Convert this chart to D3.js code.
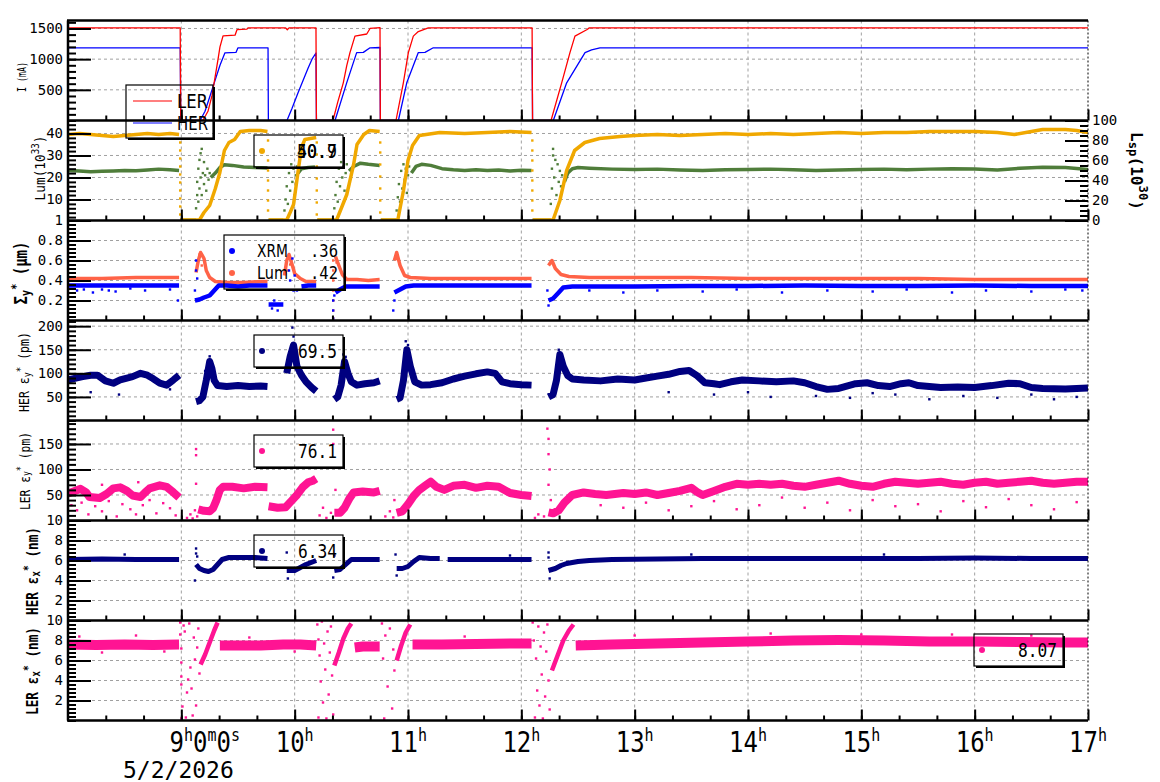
<!DOCTYPE html>
<html lang="en">
<head>
<meta charset="UTF-8">
<title>Beam monitor</title>
<script src="https://d3js.org/d3.v7.min.js"></script>
<style>
  body { margin: 0; background: #fff; }
  svg { display: block; font-family: "DejaVu Sans Mono", monospace; }
</style>
</head>
<body>
<svg id="chart" width="1160" height="782"></svg>
<script>
// ---- data (time in hours, value) ; null = gap ----
const lerCurrent = [[8.0,1510],[8.99,1510],[8.995,0],[9.19,0],[9.235,150],[9.27,400],[9.297,700],[9.324,1000],[9.341,1200],[9.368,1380],[9.474,1390],[9.491,1480],[9.579,1490],[9.588,1510],[9.92,1510],[9.935,1480],[9.95,1510],[10.188,1510],[10.192,0],[10.338,0],[10.38,300],[10.429,614],[10.46,900],[10.488,1107],[10.532,1375],[10.636,1410],[10.665,1500],[10.753,1515],[10.756,0],[10.894,0],[10.959,614],[11.003,1107],[11.047,1375],[11.091,1450],[11.179,1510],[12.095,1510],[12.099,0],[12.262,0],[12.356,614],[12.429,1107],[12.473,1375],[12.577,1480],[12.6,1510],[17.0,1510]];
const herCurrent = [[8.0,1185],[8.99,1185],[8.995,0],[9.165,0],[9.209,150],[9.253,400],[9.297,650],[9.341,900],[9.385,1103],[9.482,1110],[9.5,1185],[9.765,1185],[9.768,0],[9.932,0],[9.977,200],[10.029,450],[10.074,650],[10.118,850],[10.153,1000],[10.188,1100],[10.192,0],[10.356,0],[10.459,614],[10.547,1107],[10.606,1110],[10.665,1185],[10.753,1190],[10.756,0],[10.915,0],[10.989,614],[11.091,1107],[11.15,1110],[11.223,1185],[12.095,1185],[12.099,0],[12.282,0],[12.4,614],[12.562,1107],[12.62,1150],[12.694,1185],[17.0,1185]];

const lumData = [[8.0,23.2],[8.1,22.9],[8.2,22.6],[8.3,22.8],[8.4,23.0],[8.5,23.2],[8.6,23.1],[8.7,23.4],[8.8,23.8],[8.9,23.5],[8.98,23.2],[8.985,null],[8.99,0.6],[9.13,0.6],[9.135,null],[9.26,20],[9.3,22],[9.34,24.5],[9.38,25.8],[9.45,25.5],[9.55,24.8],[9.65,24.5],[9.76,24.3],[9.762,null],[9.77,0.6],[9.9,0.6],[9.905,null],[10.03,22],[10.06,24],[10.12,24.5],[10.18,24.8],[10.185,null],[10.2,0.6],[10.34,0.6],[10.345,null],[10.48,23],[10.52,25],[10.58,26.5],[10.65,26],[10.75,25.5],[10.752,null],[10.76,0.6],[10.9,0.6],[10.905,null],[11.03,22],[11.07,25],[11.12,26],[11.2,25.5],[11.3,24],[11.4,23.5],[11.5,23.2],[11.6,23.5],[11.7,23.2],[11.8,23.4],[11.9,23],[12.0,23.3],[12.09,23.2],[12.095,null],[12.1,0.6],[12.26,0.6],[12.265,null],[12.38,18],[12.41,22],[12.45,24],[12.5,24.5],[12.6,24.2],[12.8,23.8],[13.0,23.6],[13.2,23.8],[13.4,23.4],[13.6,23.2],[13.8,23.5],[14.0,23.6],[14.2,23.8],[14.4,23.5],[14.6,23.2],[14.8,23.4],[15.0,23.6],[15.2,23.8],[15.4,23.5],[15.6,23.8],[15.8,24],[16.0,23.9],[16.2,23.4],[16.4,24.2],[16.6,24.6],[16.8,24.5],[17.0,23.6]];
const lumDots = [[9.13,6],[9.14,12],[9.14,18],[9.15,9],[9.15,24],[9.16,15],[9.16,28],[9.17,20],[9.17,31],[9.18,12],[9.18,33],[9.19,22],[9.2,17],[9.2,27],[9.21,21],[9.22,14],[9.23,24],[9.24,19],[9.25,22],[9.91,5],[9.92,10],[9.93,16],[9.94,8],[9.95,22],[9.96,14],[9.97,26],[9.98,18],[9.99,24],[10.0,12],[10.01,21],[10.02,25],[10.35,6],[10.36,12],[10.37,18],[10.38,9],[10.39,24],[10.4,16],[10.41,27],[10.42,20],[10.43,25],[10.44,14],[10.45,22],[10.46,26],[10.9,5],[10.91,11],[10.92,17],[10.93,9],[10.94,23],[10.95,15],[10.96,26],[10.97,19],[10.98,24],[10.99,13],[11.0,21],[11.01,25],[12.26,8],[12.27,15],[12.27,24],[12.28,30],[12.28,33],[12.29,20],[12.3,28],[12.31,12],[12.32,26],[12.33,18],[12.34,23],[12.35,16],[12.36,21]];
const lspData = [[8.0,86],[8.1,87],[8.2,86],[8.3,85],[8.4,84],[8.5,85],[8.6,86],[8.7,87],[8.8,86],[8.9,87],[8.98,86],[8.985,null],[8.99,0.5],[9.16,0.5],[9.2,8],[9.25,15],[9.3,32],[9.34,48],[9.38,70],[9.42,78],[9.47,81],[9.52,89],[9.6,90],[9.7,90],[9.76,89],[9.762,null],[9.77,0.5],[9.93,0.5],[9.96,8],[9.99,16],[10.03,49],[10.06,73],[10.09,81],[10.19,83],[10.192,null],[10.2,0.5],[10.37,0.5],[10.46,26],[10.52,56],[10.55,76],[10.61,86],[10.66,90],[10.75,89],[10.752,null],[10.76,0.5],[10.91,0.5],[10.96,30],[11.0,60],[11.04,75],[11.1,85],[11.28,88],[11.5,87],[11.7,88],[11.9,89],[12.09,88],[12.095,null],[12.1,0.5],[12.28,0.5],[12.34,20],[12.4,50],[12.47,70],[12.56,78],[12.69,82],[12.87,84],[13.0,85],[13.2,86],[13.4,85],[13.6,86],[13.8,87],[14.0,86],[14.2,87],[14.4,86],[14.6,87],[14.8,88],[15.0,87],[15.2,88],[15.4,88],[15.6,89],[15.8,89],[16.0,89],[16.2,88],[16.35,86],[16.5,89],[16.6,91],[16.8,91],[16.9,90],[17.0,88]];
const lspDrops = [[8.99,78],[8.99,70],[8.99,62],[8.99,54],[8.99,46],[8.99,38],[8.99,30],[8.99,22],[8.99,14],[8.99,6],[9.765,80],[9.765,60],[9.765,50],[9.765,40],[9.765,30],[9.765,20],[9.765,10],[10.195,78],[10.195,66],[10.195,54],[10.195,42],[10.195,30],[10.195,18],[10.195,6],[10.755,78],[10.755,68],[10.755,56],[10.755,44],[10.755,32],[10.755,20],[10.755,8],[12.097,80],[12.097,70],[12.097,60],[12.097,50],[12.097,40],[12.097,30],[12.097,20],[12.097,10]];

const xrmSigma = [[8.0,0.35],[8.2,0.35],[8.4,0.35],[8.6,0.35],[8.8,0.35],[8.98,0.35],[8.985,null],[9.12,0.2],[9.16,0.21],[9.2,0.23],[9.25,0.25],[9.29,0.3],[9.33,0.35],[9.4,0.35],[9.5,0.34],[9.6,0.35],[9.76,0.35],[9.762,null],[9.77,0.16],[9.9,0.16],[9.905,null],[10.06,0.34],[10.12,0.35],[10.19,0.35],[10.192,null],[10.36,0.28],[10.4,0.31],[10.45,0.34],[10.55,0.34],[10.65,0.34],[10.75,0.34],[10.752,null],[10.88,0.28],[10.93,0.31],[10.98,0.34],[11.05,0.35],[11.3,0.35],[11.6,0.35],[11.9,0.35],[12.09,0.35],[12.095,null],[12.24,0.2],[12.28,0.22],[12.33,0.28],[12.37,0.33],[12.45,0.34],[13.0,0.34],[13.5,0.345],[14.0,0.345],[14.5,0.35],[15.0,0.345],[15.5,0.345],[16.0,0.35],[16.5,0.345],[17.0,0.345]];
const xrmDots = [[8.08,0.3],[8.14,0.31],[8.22,0.28],[8.3,0.31],[8.36,0.3],[8.42,0.29],[8.55,0.32],[8.68,0.3],[8.9,0.31],[8.97,0.2],[9.13,0.6],[9.13,0.5],[9.14,0.42],[9.12,0.3],[9.95,0.5],[9.96,0.4],[9.98,0.62],[9.99,0.3],[10.0,0.45],[10.02,0.3],[9.8,0.12],[9.85,0.1],[9.82,0.2],[10.34,0.02],[10.34,0.1],[10.34,0.2],[10.35,0.25],[10.87,0.1],[10.88,0.2],[12.23,0.3],[12.24,0.15],[12.6,0.3],[12.9,0.28],[13.2,0.3],[13.6,0.29],[13.9,0.31],[14.3,0.28],[14.7,0.3],[15.1,0.29],[15.4,0.31],[15.8,0.28],[16.1,0.3],[16.5,0.29],[16.8,0.31],[16.95,0.3]];
const lumSigma = [[8.0,0.42],[8.3,0.42],[8.6,0.43],[8.98,0.43],[8.985,null],[9.13,0.48],[9.15,0.6],[9.17,0.68],[9.2,0.62],[9.22,0.5],[9.25,0.43],[9.3,0.39],[9.4,0.38],[9.55,0.38],[9.7,0.39],[9.76,0.39],[9.762,null],[9.91,0.45],[9.93,0.6],[9.95,0.66],[9.98,0.55],[10.0,0.47],[10.05,0.42],[10.1,0.39],[10.19,0.39],[10.192,null],[10.36,0.64],[10.39,0.55],[10.42,0.46],[10.46,0.41],[10.55,0.41],[10.65,0.4],[10.75,0.41],[10.752,null],[10.88,0.6],[10.9,0.68],[10.93,0.55],[10.97,0.45],[11.02,0.43],[11.2,0.42],[11.5,0.42],[11.8,0.42],[12.09,0.42],[12.095,null],[12.24,0.55],[12.27,0.6],[12.3,0.52],[12.35,0.46],[12.42,0.44],[12.6,0.43],[13.0,0.43],[13.5,0.43],[14.0,0.42],[14.5,0.42],[15.0,0.42],[15.5,0.42],[16.0,0.41],[16.5,0.41],[17.0,0.41]];
const lumSigmaDots = [[10.34,0.6],[10.34,0.5],[10.34,0.4],[10.34,0.3],[10.34,0.2],[10.34,0.1],[10.34,0.02],[9.94,0.5],[9.96,0.56],[10.37,0.58],[9.16,0.66],[9.18,0.55],[10.89,0.64]];

const herEy = [[8.0,86],[8.07,90],[8.13,93],[8.2,96],[8.26,96],[8.33,84],[8.4,79],[8.46,86],[8.52,90],[8.57,93],[8.64,100],[8.7,96],[8.75,89],[8.81,79],[8.87,75],[8.93,86],[8.98,96],[8.985,null],[9.13,40],[9.16,42],[9.19,50],[9.22,85],[9.25,125],[9.27,110],[9.29,85],[9.32,74],[9.4,72],[9.5,74],[9.6,72],[9.7,73],[9.76,72],[9.762,null],[9.93,100],[9.96,135],[9.99,160],[10.02,115],[10.06,96],[10.1,82],[10.15,70],[10.19,62],[10.192,null],[10.35,45],[10.38,50],[10.41,75],[10.44,125],[10.47,100],[10.5,82],[10.55,75],[10.62,78],[10.7,80],[10.75,84],[10.752,null],[10.9,45],[10.93,48],[10.96,85],[10.99,150],[11.02,115],[11.06,82],[11.12,75],[11.2,76],[11.3,80],[11.4,88],[11.5,94],[11.6,99],[11.7,103],[11.77,100],[11.83,82],[11.9,78],[12.0,76],[12.09,75],[12.095,null],[12.24,50],[12.28,55],[12.31,85],[12.34,140],[12.37,115],[12.41,95],[12.45,88],[12.55,86],[12.7,84],[12.85,88],[13.0,86],[13.1,90],[13.2,94],[13.3,98],[13.4,104],[13.48,106],[13.55,95],[13.62,80],[13.7,78],[13.75,76],[13.85,82],[13.95,86],[14.1,84],[14.25,82],[14.4,84],[14.5,80],[14.6,72],[14.7,66],[14.8,68],[14.95,78],[15.05,80],[15.15,74],[15.25,72],[15.35,78],[15.42,80],[15.5,74],[15.6,72],[15.7,70],[15.85,71],[16.0,70],[16.15,74],[16.3,79],[16.4,78],[16.5,70],[16.6,68],[16.8,67],[17.0,69]];
const herEyDots = [[8.2,60],[8.45,55],[8.9,66],[9.21,105],[9.23,118],[9.25,136],[9.26,128],[9.98,197],[9.99,178],[10.0,154],[10.01,130],[10.43,140],[10.45,135],[10.46,118],[10.98,168],[10.99,150],[11.0,160],[12.33,150],[12.34,138],[12.35,125],[13.3,60],[13.7,55],[14.0,60],[14.2,50],[14.6,52],[14.9,48],[15.1,58],[15.3,55],[15.6,45],[15.9,52],[16.2,48],[16.5,55],[16.7,45],[16.9,50]];

const lerEy = [[8.0,53],[8.06,58],[8.11,62],[8.16,55],[8.19,46],[8.28,44],[8.34,52],[8.4,63],[8.46,65],[8.52,58],[8.57,49],[8.64,46],[8.68,55],[8.72,63],[8.81,69],[8.87,66],[8.93,55],[8.98,45],[8.985,null],[9.15,22],[9.2,19],[9.25,18],[9.28,24],[9.31,40],[9.34,60],[9.37,66],[9.45,66],[9.55,63],[9.65,66],[9.76,65],[9.762,null],[9.77,28],[9.85,25],[9.92,26],[9.97,38],[10.02,50],[10.07,65],[10.12,75],[10.16,78],[10.19,82],[10.192,null],[10.35,15],[10.4,15],[10.44,25],[10.48,42],[10.52,55],[10.6,57],[10.7,55],[10.75,58],[10.752,null],[10.9,15],[10.95,18],[11.0,32],[11.05,48],[11.1,60],[11.15,68],[11.2,76],[11.25,66],[11.32,60],[11.4,68],[11.5,70],[11.6,64],[11.7,68],[11.8,66],[11.9,54],[12.0,50],[12.09,48],[12.095,null],[12.24,16],[12.28,14],[12.33,20],[12.38,35],[12.45,50],[12.55,55],[12.65,52],[12.75,50],[12.9,54],[13.0,52],[13.1,55],[13.2,50],[13.3,54],[13.4,58],[13.5,64],[13.55,56],[13.6,50],[13.7,58],[13.8,66],[13.9,72],[14.0,70],[14.1,72],[14.2,70],[14.3,72],[14.4,68],[14.5,66],[14.6,70],[14.7,74],[14.8,78],[14.9,72],[15.0,68],[15.1,66],[15.2,72],[15.3,76],[15.4,74],[15.5,72],[15.6,74],[15.7,76],[15.8,72],[15.9,70],[16.0,74],[16.1,76],[16.2,72],[16.3,74],[16.4,76],[16.5,78],[16.6,74],[16.7,72],[16.8,74],[16.9,76],[17.0,76]];
const lerEyDots = [[8.03,30],[8.08,20],[8.12,35],[8.18,12],[8.24,28],[8.3,18],[8.36,38],[8.43,8],[8.48,32],[8.55,22],[8.6,12],[8.66,30],[8.72,40],[8.78,14],[8.84,34],[8.9,24],[8.95,10],[8.62,75],[8.3,70],[9.13,140],[9.13,128],[9.13,72],[9.12,20],[9.14,8],[9.05,5],[9.08,12],[9.1,4],[10.22,10],[10.25,25],[10.28,5],[10.32,15],[10.34,178],[10.34,150],[10.36,60],[10.8,8],[10.84,18],[10.87,6],[10.88,40],[12.12,5],[12.15,12],[12.2,8],[12.23,180],[12.24,160],[12.24,130],[12.25,100],[12.24,70],[12.26,40],[12.7,30],[12.9,25],[13.1,35],[13.3,20],[13.5,28],[13.7,38],[13.9,22],[14.1,30],[14.3,45],[14.5,25],[14.7,35],[14.9,20],[15.1,40],[15.3,28],[15.5,32],[15.7,18],[15.9,38],[16.1,26],[16.3,42],[16.5,30],[16.7,22],[16.9,36]];

const herEx = [[8.0,6.1],[8.3,6.15],[8.6,6.1],[8.98,6.1],[8.985,null],[9.13,5.6],[9.16,5.2],[9.2,5.0],[9.24,4.9],[9.28,5.1],[9.32,5.6],[9.36,6.1],[9.42,6.3],[9.55,6.3],[9.65,6.3],[9.76,6.2],[9.762,null],[9.93,5.0],[10.0,5.0],[10.05,5.3],[10.1,5.6],[10.19,6.0],[10.192,null],[10.35,5.0],[10.4,5.1],[10.45,5.6],[10.5,6.1],[10.6,6.1],[10.75,6.1],[10.752,null],[10.9,5.2],[10.95,5.2],[11.0,5.4],[11.05,5.9],[11.1,6.3],[11.2,6.2],[11.28,6.2],[11.282,null],[11.35,6.1],[11.6,6.1],[11.85,6.1],[12.09,6.1],[12.095,null],[12.24,5.0],[12.3,5.2],[12.35,5.5],[12.4,5.7],[12.5,5.9],[12.6,6.0],[12.8,6.1],[13.2,6.15],[13.6,6.2],[14.0,6.2],[14.5,6.2],[15.0,6.2],[15.5,6.2],[16.0,6.25],[16.5,6.2],[17.0,6.2]];
const herExDots = [[9.13,7.2],[9.13,6.7],[9.12,4.0],[9.14,6.4],[9.93,6.8],[9.94,4.2],[10.35,6.5],[10.34,4.3],[10.89,6.6],[10.9,4.5],[12.24,6.8],[12.24,6.3],[12.25,4.2],[8.5,6.6],[11.9,6.5],[13.5,6.6],[15.2,6.6]];

const lerEx = [[8.0,7.6],[8.25,7.55],[8.5,7.6],[8.75,7.55],[8.98,7.6],[8.985,null],[9.34,7.5],[9.5,7.5],[9.7,7.5],[9.9,7.6],[10.05,7.6],[10.19,7.5],[10.192,null],[10.53,7.3],[10.6,7.4],[10.75,7.4],[10.752,null],[11.04,7.6],[11.3,7.6],[11.6,7.65],[11.9,7.7],[12.09,7.7],[12.095,null],[12.48,7.5],[12.8,7.6],[13.2,7.7],[13.6,7.8],[14.0,7.9],[14.4,8.0],[14.8,8.05],[15.2,8.0],[15.6,7.9],[16.0,7.9],[16.4,7.85],[16.8,7.8],[17.0,7.8]];
const lerExRamps = [[9.17,5.6],[9.21,6.6],[9.25,7.8],[9.29,9.0],[9.32,9.8],[9.322,null],[10.35,5.5],[10.39,6.8],[10.43,8.2],[10.47,9.2],[10.5,9.7],[10.502,null],[10.9,6.0],[10.94,7.5],[10.98,8.8],[11.02,9.6],[11.022,null],[12.27,5.0],[12.32,6.5],[12.37,8.0],[12.42,9.0],[12.46,9.6]];
const lerExDots = [[8.99,9.8],[8.99,8.6],[9.0,7.2],[9.0,5.8],[9.0,4.4],[9.0,3.6],[9.01,1.4],[9.0,0.2],[9.02,9.5],[9.03,8.9],[9.04,0.3],[9.05,2.8],[9.06,4.1],[9.07,9.7],[9.08,5.3],[9.09,3.2],[9.1,0.5],[9.11,8.3],[9.12,6.1],[9.13,1.5],[9.14,7.3],[9.15,9.2],[9.16,4.7],[10.2,9.6],[10.21,8.1],[10.21,0.3],[10.22,6.5],[10.23,3.9],[10.24,9.9],[10.25,1.8],[10.26,7.7],[10.27,5.1],[10.28,0.2],[10.29,8.9],[10.3,2.6],[10.31,6.8],[10.32,9.4],[10.33,4.5],[10.34,0.6],[10.77,9.7],[10.78,6.2],[10.79,0.2],[10.8,8.5],[10.82,3.4],[10.84,9.2],[10.86,1.2],[10.87,7.1],[10.88,5.0],[12.1,9.8],[12.11,8.0],[12.12,0.3],[12.13,6.2],[12.14,3.0],[12.15,9.4],[12.16,1.5],[12.17,7.4],[12.18,4.6],[12.19,0.2],[12.2,8.8],[12.21,2.4],[12.22,6.9],[12.23,9.6],[12.24,4.0],[12.25,1.1],[8.1,8.4],[8.3,6.8],[8.6,8.5],[8.85,6.9],[9.6,8.3],[10.0,6.9],[11.5,8.4],[13.0,8.5],[14.2,8.7],[15.0,8.6],[15.8,8.6],[16.5,8.5]];

// tick / legend texts
const hourTicks = [9, 10, 11, 12, 13, 14, 15, 16, 17];
const hourLabels = ["9", "10", "11", "12", "13", "14", "15", "16", "17"];
const dateLabel = "5/2/2026";
const currentNames = ["LER", "HER"];
const sigmaNames = ["XRM", "Lum"];
const sigmaValues = [".36", ".42"];
const lumLegend = ["40.9", "50.7"];
const lastValues = ["69.5", "76.1", "6.34", "8.07"];

// ---- layout ----
const svg = d3.select("#chart");
const X0 = 68, X1 = 1088, TOP = 20.5, PH = 100;
const pTop = i => TOP + i * PH;
const pBot = i => TOP + (i + 1) * PH;
const x = d3.scaleLinear().domain([8, 17]).range([X0, X1]);

const ys = [
  d3.scaleLinear().domain([0, 1630]).range([pBot(0), pTop(0)]),
  d3.scaleLinear().domain([0.45, 45.9]).range([pBot(1), pTop(1)]),
  d3.scaleLinear().domain([0, 1]).range([pBot(2), pTop(2)]),
  d3.scaleLinear().domain([0, 212]).range([pBot(3), pTop(3)]),
  d3.scaleLinear().domain([0, 196]).range([pBot(4), pTop(4)]),
  d3.scaleLinear().domain([0, 10]).range([pBot(5), pTop(5)]),
  d3.scaleLinear().domain([0, 10]).range([pBot(6), pTop(6)])
];
const yLsp = d3.scaleLinear().domain([0, 100]).range([pBot(1), pTop(1)]);

const majors = [[500, 1000, 1500], [10, 20, 30, 40], [0.2, 0.4, 0.6, 0.8, 1], [50, 100, 150, 200], [50, 100, 150], [2, 4, 6, 8, 10], [2, 4, 6, 8, 10]];
const minorStep = [100, 2, 0.04, 10, 10, 0.4, 0.4];

svg.append("rect").attr("width", 1160).attr("height", 782).attr("fill", "#fff");

// grid
const grid = svg.append("g").attr("stroke", "#a0a0a0").attr("stroke-dasharray", "3,3").attr("stroke-width", 1);
hourTicks.slice(0, -1).forEach(h => {
  grid.append("line").attr("x1", x(h)).attr("x2", x(h)).attr("y1", pTop(0)).attr("y2", pBot(6));
});
majors.forEach((m, i) => {
  m.filter(v => ys[i](v) > pTop(i) + 1).forEach(v => {
    grid.append("line").attr("x1", X0).attr("x2", X1).attr("y1", ys[i](v)).attr("y2", ys[i](v));
  });
});

// clipped layers
const defs = svg.append("defs");
const layers = ys.map((y, i) => {
  defs.append("clipPath").attr("id", "clip" + i).append("rect")
    .attr("x", X0).attr("y", pTop(i)).attr("width", X1 - X0).attr("height", PH);
  return svg.append("g").attr("clip-path", `url(#clip${i})`);
});

function band(i, data, y, color, w) {
  const line = d3.line().defined(d => d[1] !== null).x(d => x(d[0])).y(d => y(d[1]));
  layers[i].append("path").attr("d", line(data)).attr("fill", "none")
    .attr("stroke", color).attr("stroke-width", w).attr("stroke-linejoin", "round");
}
function dots(i, data, y, color, s) {
  layers[i].append("g").selectAll("rect").data(data).join("rect")
    .attr("x", d => x(d[0]) - s / 2).attr("y", d => y(d[1]) - s / 2)
    .attr("width", s).attr("height", s).attr("fill", color);
}

const RED = "#ff0000", BLUE = "#0000ff", ORANGE = "#f0a800", GREEN = "#4f7d3a",
      TOMATO = "#ff6347", NAVY = "#000080", PINK = "#ff1493";

band(0, herCurrent, ys[0], BLUE, 1.3);
band(0, lerCurrent, ys[0], RED, 1.3);

band(1, lumData, ys[1], GREEN, 3.5);
dots(1, lumDots, ys[1], GREEN, 2.4);
band(1, lspData, yLsp, ORANGE, 3.5);
dots(1, lspDrops, yLsp, ORANGE, 2.4);

band(2, lumSigma, ys[2], TOMATO, 3.5);
dots(2, lumSigmaDots, ys[2], TOMATO, 2.4);
band(2, xrmSigma, ys[2], BLUE, 4.5);
dots(2, xrmDots, ys[2], BLUE, 2.4);

band(3, herEy, ys[3], NAVY, 7);
dots(3, herEyDots, ys[3], NAVY, 2.4);

band(4, lerEy, ys[4], PINK, 8);
dots(4, lerEyDots, ys[4], PINK, 2.4);

band(5, herEx, ys[5], NAVY, 5);
dots(5, herExDots, ys[5], NAVY, 2.4);

band(6, lerEx, ys[6], PINK, 10);
band(6, lerExRamps, ys[6], PINK, 4.5);
dots(6, lerExDots, ys[6], PINK, 2.4);

// axes
function styleAxis(g) {
  g.select(".domain").remove();
  g.selectAll("line").attr("stroke", "#000").attr("stroke-width", 2);
  g.attr("font-family", "DejaVu Sans Mono").attr("font-size", 14);
  g.selectAll("text").attr("fill", "#000");
}
ys.forEach((y, i) => {
  const [lo, hi] = y.domain();
  const minors = d3.range(Math.ceil(lo / minorStep[i]) * minorStep[i], hi, minorStep[i]);
  svg.append("g").attr("transform", `translate(${X0},0)`)
    .call(d3.axisRight(y).tickValues(minors).tickSize(8).tickFormat("")).call(styleAxis);
  svg.append("g").attr("transform", `translate(${X0},0)`)
    .call(d3.axisRight(y).tickValues(majors[i]).tickSize(23).tickFormat("")).call(styleAxis);
  svg.append("g").attr("transform", `translate(${X0},0)`)
    .call(d3.axisLeft(y).tickValues(majors[i]).tickSize(0).tickPadding(5).tickFormat(d => String(d))).call(styleAxis);
  // time ticks at panel bottom
  svg.append("g").attr("transform", `translate(0,${pBot(i)})`)
    .call(d3.axisTop(x).tickValues(d3.range(8 + 1 / 3, 17, 1 / 3)).tickSize(5).tickFormat("")).call(styleAxis);
  svg.append("g").attr("transform", `translate(0,${pBot(i)})`)
    .call(d3.axisTop(x).tickValues(hourTicks).tickSize(11).tickFormat("")).call(styleAxis);
});
// right axis of luminosity panel
svg.append("g").attr("transform", `translate(${X1},0)`)
  .call(d3.axisLeft(yLsp).tickValues(d3.range(5, 100, 5)).tickSize(8).tickFormat("")).call(styleAxis);
svg.append("g").attr("transform", `translate(${X1},0)`)
  .call(d3.axisLeft(yLsp).tickValues([0, 20, 40, 60, 80, 100]).tickSize(23).tickFormat("")).call(styleAxis);
svg.append("g").attr("transform", `translate(${X1},0)`)
  .call(d3.axisRight(yLsp).tickValues([0, 20, 40, 60, 80, 100]).tickSize(0).tickPadding(4)).call(styleAxis);

// frame
const frame = svg.append("g").attr("stroke", "#000");
for (let i = -1; i < 7; i++) {
  const yy = i < 0 ? pTop(0) : pBot(i);
  frame.append("line").attr("x1", X0 - 1).attr("x2", X1).attr("y1", yy).attr("y2", yy).attr("stroke-width", 2.5);
}
frame.append("line").attr("x1", X0).attr("x2", X0).attr("y1", pTop(0)).attr("y2", pBot(6)).attr("stroke-width", 2.5);
frame.append("line").attr("x1", X1).attr("x2", X1).attr("y1", pTop(0)).attr("y2", pBot(6))
  .attr("stroke-width", 1).attr("stroke-dasharray", "2,2");

// time labels
hourTicks.forEach((h, k) => {
  const digits = hourLabels[k];
  const w = digits.length * 14.45 + 9;
  const t = svg.append("g").attr("transform", `translate(${x(h) - w / 2},752) scale(1,1.2)`)
    .append("text").attr("font-size", 24).attr("fill", "#000");
  t.append("tspan").text(digits);
  t.append("tspan").attr("font-size", 15).attr("dy", -9).text("h");
  if (k === 0) {
    t.append("tspan").attr("dy", 9).text("0");
    t.append("tspan").attr("font-size", 15).attr("dy", -9).text("m");
    t.append("tspan").attr("dy", 9).text("0");
    t.append("tspan").attr("font-size", 15).attr("dy", -9).text("s");
  }
});
svg.append("text").attr("x", 123).attr("y", 778).attr("font-size", 23).text(dateLabel);

// axis titles, squeezed to the length they have in the picture
function title(cx, cy, size, weight, parts, len, rot) {
  const g = svg.append("g");
  const t = g.append("text").attr("text-anchor", "middle").attr("dominant-baseline", "central")
    .attr("font-size", size).attr("font-weight", weight);
  parts.forEach(p => {
    const s = t.append("tspan").text(p[0]);
    if (p[1]) s.attr("dy", p[1]);
    if (p[2]) s.attr("font-size", p[2]);
  });
  const natural = t.node().getComputedTextLength();
  g.attr("transform", `translate(${cx},${cy}) rotate(${rot || -90}) scale(${len / natural},1)`);
}
title(21, 77, 12, "normal", [["I (mA)"]], 30);
title(40, 168, 14, "normal", [["Lum(10"], ["33", -5, 10], [")", 5]], 65);
title(22, 273, 17, "bold", [["Σ"], ["y", 4, 12], ["*", -10, 13], [" (μm)", 6]], 63);
title(24, 372, 14, "normal", [["HER ε"], ["y", 3, 10], ["*", -7, 11], [" (pm)", 4]], 80);
title(24, 471, 14, "normal", [["LER ε"], ["y", 3, 10], ["*", -7, 11], [" (pm)", 4]], 78);
title(32, 571, 16, "bold", [["HER ε"], ["x", 4, 12], ["*", -8, 12], [" (nm)", 4]], 88);
title(32, 671, 16, "bold", [["LER ε"], ["x", 4, 12], ["*", -8, 12], [" (nm)", 4]], 88);
title(1137, 171, 16, "bold", [["L"], ["sp", 4, 12], ["(10", -4], ["30", -6, 12], [")", 6]], 78, 90);

// legends
function box(x0, y0, w, h) {
  const g = svg.append("g");
  g.append("path").attr("d", `M${x0 + w + 1},${y0 + 2}V${y0 + h + 1}H${x0 + 2}`)
    .attr("fill", "none").attr("stroke", "#000").attr("stroke-width", 2);
  g.append("rect").attr("x", x0).attr("y", y0).attr("width", w).attr("height", h)
    .attr("fill", "none").attr("stroke", "#000").attr("stroke-width", 1.2);
  return g;
}
function ltext(g, tx, ty, s, fam, size, len, anchor) {
  g.append("text").attr("x", tx).attr("y", ty).attr("font-family", fam).attr("font-size", size)
    .attr("text-anchor", anchor || "start").attr("textLength", len).attr("lengthAdjust", "spacingAndGlyphs").text(s);
}
{
  const g = box(126, 85, 87, 53);
  [RED, BLUE].forEach((c, k) => {
    g.append("line").attr("x1", 133).attr("x2", 172).attr("y1", 101 + k * 22).attr("y2", 101 + k * 22)
      .attr("stroke", c).attr("stroke-width", 1.2);
    ltext(g, 177, 108 + k * 22, currentNames[k], "DejaVu Sans", 20, 31);
  });
}
{
  const g = box(254, 135, 89, 32);
  g.append("circle").attr("cx", 262).attr("cy", 151).attr("r", 3).attr("fill", ORANGE);
  lumLegend.forEach(s => ltext(g, 337, 158, s, "DejaVu Sans Mono", 19, 40, "end"));
}
{
  const g = box(224, 235, 120, 54);
  [BLUE, TOMATO].forEach((c, k) => {
    g.append("circle").attr("cx", 232).attr("cy", 251 + k * 22).attr("r", 3).attr("fill", c);
    ltext(g, 257, 257 + k * 22, sigmaNames[k], "DejaVu Sans", 18, 31);
    ltext(g, 338, 257 + k * 22, sigmaValues[k], "DejaVu Sans Mono", 18, 28, "end");
  });
}
[[254, 335, NAVY], [254, 435, PINK], [254, 535, NAVY], [974, 634, PINK]].forEach((b, k) => {
  const g = box(b[0], b[1], 89, 32);
  g.append("circle").attr("cx", b[0] + 8).attr("cy", b[1] + 16).attr("r", 3).attr("fill", b[2]);
  ltext(g, b[0] + 83, b[1] + 23, lastValues[k], "DejaVu Sans Mono", 19, 39, "end");
});
</script>
</body>
</html>
